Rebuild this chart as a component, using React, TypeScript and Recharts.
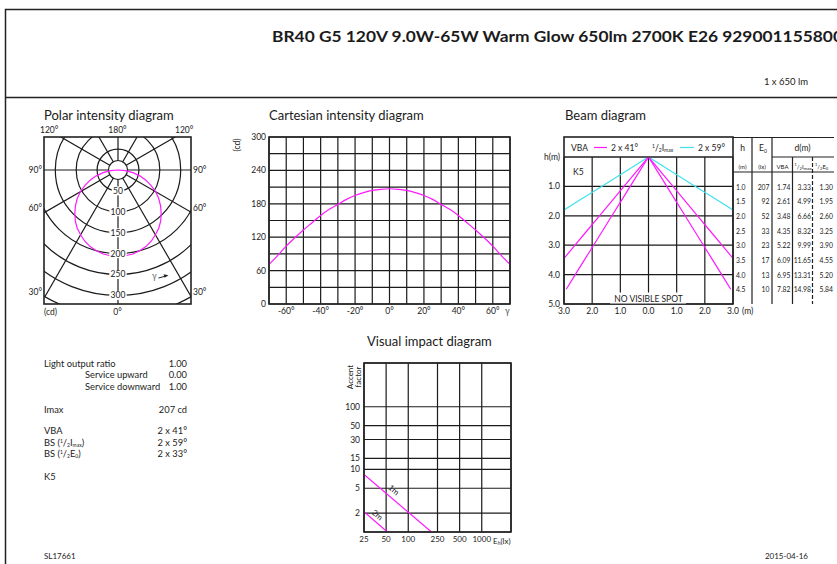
import React from 'react';
import {
  RadarChart, Radar, PolarGrid, PolarAngleAxis, PolarRadiusAxis,
  LineChart, Line, ScatterChart, Scatter, XAxis, YAxis, CartesianGrid,
} from 'recharts';

const FONT = 'Lato, "Open Sans", sans-serif';
const INK = '#1b1b1b';
const MAGENTA = '#ff1aff';
const CYAN = '#3fe2ee';

// Polar intensity diagram (gamma in degrees, intensity in cd)
const polarGamma = [
  0, 5, 10, 15, 20, 25, 30, 35, 40, 45, 50, 55, 60, 65, 70, 75, 80, 85, 90,
  95, 100, 105, 110, 115, 120, 125, 130, 135, 140, 145, 150, 155, 160, 165, 170, 175, 180,
  185, 190, 195, 200, 205, 210, 215, 220, 225, 230, 235, 240, 245, 250, 255, 260, 265,
  270, 275, 280, 285, 290, 295, 300, 305, 310, 315, 320, 325, 330, 335, 340, 345, 350, 355,
];
const polarIntensity = [
  207, 206, 204, 200, 195, 188, 179, 170, 159, 146, 133, 119, 104, 87, 71, 54, 36, 18, 0,
  0, 0, 0, 0, 0, 0, 0, 0, 0, 0, 0, 0, 0, 0, 0, 0, 0, 0,
  0, 0, 0, 0, 0, 0, 0, 0, 0, 0, 0, 0, 0, 0, 0, 0, 0,
  0, 18, 36, 54, 71, 87, 104, 119, 133, 146, 159, 170, 179, 188, 195, 200, 204, 206,
];
const polarRings = [0, 50, 100, 150, 200, 250, 300, 350];
const polarLabels = [50, 100, 150, 200, 250, 300];
const polarSpokes = [0, 30, 60, 90, 120, 150, 180, 210, 240, 270, 300, 330];

// Cartesian intensity diagram
const cartGamma = [-70, -65, -60, -55, -50, -45, -40, -35, -30, -25, -20, -15, -10, -5, 0, 5, 10, 15, 20, 25, 30, 35, 40, 45, 50, 55, 60, 65, 70];
const cartIntensity = [71, 87, 104, 119, 133, 146, 159, 170, 179, 188, 195, 200, 204, 206, 207, 206, 204, 200, 195, 188, 179, 170, 159, 146, 133, 119, 104, 87, 71];
const cartTicksX = [-70, -60, -50, -40, -30, -20, -10, 0, 10, 20, 30, 40, 50, 60, 70];
const cartLabelsX = [-60, -40, -20, 0, 20, 40, 60];
const cartTicksY = [0, 30, 60, 90, 120, 150, 180, 210, 240, 270, 300];
const cartLabelsY = [0, 60, 120, 180, 240, 300];

// Beam diagram table
const beamH = [1.0, 1.5, 2.0, 2.5, 3.0, 3.5, 4.0, 4.5];
const beamE0 = [207, 92, 52, 33, 23, 17, 13, 10];
const beamVBA = [1.74, 2.61, 3.48, 4.35, 5.22, 6.09, 6.95, 7.82];
const beamHalfImax = [3.33, 4.99, 6.66, 8.32, 9.99, 11.65, 13.31, 14.98];
const beamHalfE0 = [1.30, 1.95, 2.60, 3.25, 3.90, 4.55, 5.20, 5.84];
const beamTicksX = [-3, -2, -1, 0, 1, 2, 3];
const beamTicksY = [0, 1, 2, 3, 4, 5];

// Visual impact diagram
const viTicksX = [25, 50, 100, 250, 500, 1000];
const viTicksY = [2, 5, 10, 15, 30, 50, 100];
const vi1mEh = [25, 207];
const vi1mAf = [8.3, 1];
const vi2mEh = [25, 52];
const vi2mAf = [2.1, 1];

// left info block
const specRows = [
  { label: 'Light output ratio', indent: false, value: '1.00', y: 366.5 },
  { label: 'Service upward', indent: true, value: '0.00', y: 378 },
  { label: 'Service downward', indent: true, value: '1.00', y: 389.5 },
  { label: 'Imax', indent: false, value: '207 cd', y: 412.5 },
  { label: 'VBA', indent: false, value: '2 x 41°', y: 434 },
];

const polarData = polarGamma.map((g, i) => ({ g, cd: polarIntensity[i] }));
const cartData = cartGamma.map((g, i) => ({ g, cd: cartIntensity[i] }));
const beamEdge = (diam: number[]) => [
  ...beamH.map((h, i) => ({ d: -diam[i] / 2, h })).reverse(),
  { d: 0, h: 0 },
  ...beamH.map((h, i) => ({ d: diam[i] / 2, h })),
];
const vi1m = vi1mEh.map((eh, i) => ({ eh, af: vi1mAf[i] }));
const vi2m = vi2mEh.map((eh, i) => ({ eh, af: vi2mAf[i] }));

const tickStyle = { fontSize: 8.5, fill: INK, fontFamily: FONT };

const Txt = ({ x, y, size = 8.5, anchor = 'start', fill = INK, weight = 400, children, ...rest }: any) => (
  <text x={x} y={y} fontSize={size} textAnchor={anchor} fill={fill} fontWeight={weight} fontFamily={FONT} {...rest}>
    {children}
  </text>
);

const NoDot = () => <g />;

const RadiusTick = (props: any) => {
  const { x, y, payload } = props;
  const v = payload.value;
  if (!polarLabels.includes(v)) return <g />;
  const w = String(v).length * 4.8 + 3;
  return (
    <g>
      <rect x={x - w / 2} y={y - 4.5} width={w} height={9} fill="#fff" />
      <text x={x} y={y} dy="0.35em" textAnchor="middle" fontSize={8.5} fill={INK} fontFamily={FONT}>{v}</text>
    </g>
  );
};

// hub of the polar grid, spokes start at its rim
const HubCircle = () => <circle cx={150} cy={150} r={9.5} fill="#fff" stroke={INK} strokeWidth={1.2} />;

const PolarDiagram = () => (
  <div style={{ position: 'absolute', left: 44, top: 137, width: 147, height: 167, overflow: 'hidden' }}>
    <div style={{ position: 'absolute', left: -76.5, top: -117 }}>
      <RadarChart
        width={300}
        height={300}
        data={polarData}
        margin={{ top: 0, right: 0, bottom: 0, left: 0 }}
        outerRadius={146.3}
        startAngle={-90}
        endAngle={-450}
      >
        <PolarGrid gridType="circle" polarAngles={polarSpokes} stroke={INK} strokeWidth={1.2} />
        <PolarAngleAxis dataKey="g" tick={false} axisLine={false} />
        <HubCircle />
        <Radar dataKey="cd" stroke={MAGENTA} strokeWidth={1.2} fill="none" dot={false} isAnimationActive={false} />
        <PolarRadiusAxis
          angle={-90}
          type="number"
          domain={[0, 350]}
          ticks={polarRings as any}
          tickCount={8}
          allowDataOverflow
          axisLine={false}
          tick={<RadiusTick />}
        />
      </RadarChart>
    </div>
  </div>
);

const CartesianDiagram = () => (
  <div style={{ position: 'absolute', left: 240, top: 127 }}>
    <LineChart width={285} height={197} data={cartData} margin={{ top: 10, right: 15, bottom: 0, left: 0 }}>
      <CartesianGrid stroke={INK} strokeWidth={1.2} />
      <XAxis
        type="number"
        dataKey="g"
        domain={[-70, 70]}
        ticks={cartTicksX}
        interval={0}
        height={20}
        axisLine={false}
        tickLine={false}
        tickSize={0}
        tickMargin={4}
        tick={tickStyle}
        tickFormatter={(v: number) => (cartLabelsX.includes(v) ? `${v}°` : '')}
      />
      <YAxis
        type="number"
        domain={[0, 300]}
        ticks={cartTicksY}
        interval={0}
        width={29}
        axisLine={false}
        tickLine={false}
        tickSize={0}
        tickMargin={3}
        tick={tickStyle}
        tickFormatter={(v: number) => (cartLabelsY.includes(v) ? String(v) : '')}
      />
      <Line type="monotone" dataKey="cd" stroke={MAGENTA} strokeWidth={1.2} dot={false} isAnimationActive={false} />
    </LineChart>
  </div>
);

const BeamXTick = (props: any) => {
  const { x, y, payload } = props;
  const v = payload.value;
  return (
    <g>
      <text x={x} y={y} dy={7} textAnchor="middle" fontSize={8.5} fill={INK} fontFamily={FONT}>{Math.abs(v).toFixed(1)}</text>
      {v === 3 && <text x={x + 9} y={y} dy={7} fontSize={8.5} fill={INK} fontFamily={FONT}>(m)</text>}
    </g>
  );
};

const BeamDiagram = () => (
  <div style={{ position: 'absolute', left: 520, top: 150 }}>
    <ScatterChart width={243} height={174} margin={{ top: 7, right: 30, bottom: 0, left: 0 }}>
      <CartesianGrid stroke={INK} strokeWidth={1.2} />
      <XAxis
        type="number"
        dataKey="d"
        domain={[-3, 3]}
        ticks={beamTicksX}
        interval={0}
        allowDataOverflow
        height={20}
        axisLine={false}
        tickLine={false}
        tickSize={0}
        tickMargin={3}
        tick={<BeamXTick />}
      />
      <YAxis
        type="number"
        dataKey="h"
        domain={[0, 5]}
        reversed
        ticks={beamTicksY}
        interval={0}
        allowDataOverflow
        width={44}
        axisLine={false}
        tickLine={false}
        tickSize={0}
        tickMargin={4}
        tick={tickStyle}
        tickFormatter={(v: number) => (v === 0 ? 'h(m)' : v.toFixed(1))}
      />
      <Scatter data={beamEdge(beamHalfImax)} fill={CYAN} line={{ stroke: CYAN, strokeWidth: 1.2 }} shape={<NoDot />} isAnimationActive={false} />
      <Scatter data={beamEdge(beamVBA)} fill={MAGENTA} line={{ stroke: MAGENTA, strokeWidth: 1.2 }} shape={<NoDot />} isAnimationActive={false} />
      <Scatter data={beamEdge(beamHalfE0)} fill={MAGENTA} line={{ stroke: MAGENTA, strokeWidth: 1.2 }} shape={<NoDot />} isAnimationActive={false} />
    </ScatterChart>
  </div>
);

const VisualImpact = () => (
  <div style={{ position: 'absolute', left: 320, top: 355 }}>
    <ScatterChart width={196} height={197} margin={{ top: 8, right: 5, bottom: 0, left: 0 }}>
      <CartesianGrid stroke={INK} strokeWidth={1.2} />
      <XAxis
        type="number"
        dataKey="eh"
        scale="log"
        domain={[25, 2500]}
        ticks={viTicksX}
        interval={0}
        allowDataOverflow
        height={20}
        axisLine={false}
        tickLine={false}
        tickSize={0}
        tickMargin={4}
        tick={{ ...tickStyle, fontSize: 8 }}
      />
      <YAxis
        type="number"
        dataKey="af"
        scale="log"
        domain={[1, 500]}
        ticks={viTicksY}
        interval={0}
        allowDataOverflow
        width={44}
        axisLine={false}
        tickLine={false}
        tickSize={0}
        tickMargin={4}
        tick={tickStyle}
      />
      <Scatter data={vi1m} fill={MAGENTA} line={{ stroke: MAGENTA, strokeWidth: 1.2 }} shape={<NoDot />} isAnimationActive={false} />
      <Scatter data={vi2m} fill={MAGENTA} line={{ stroke: MAGENTA, strokeWidth: 1.2 }} shape={<NoDot />} isAnimationActive={false} />
    </ScatterChart>
  </div>
);

const HalfFrac = ({ small = 5 }: { small?: number }) => (
  <>
    <tspan fontSize={small} dy={-3}>1</tspan>
    <tspan dy={3}>/</tspan>
    <tspan fontSize={small} dy={1.5}>2</tspan>
  </>
);

const Overlay = () => {
  const rowY = beamH.map((_, i) => 189.5 + i * 14.7);
  return (
    <svg width={837} height={564} style={{ position: 'absolute', left: 0, top: 0, pointerEvents: 'none' }}>
      {/* frame */}
      <path d="M5.5 564 V9.5 H837 M5.5 97.5 H837" fill="none" stroke="#222" strokeWidth={1.5} />
      <Txt x={272} y={42} size={14.5} weight={700} textLength={571} lengthAdjust="spacingAndGlyphs">
        BR40 G5 120V 9.0W-65W Warm Glow 650lm 2700K E26 929001155800
      </Txt>
      <Txt x={808} y={85} size={9.5} anchor="end">1 x 650 lm</Txt>

      {/* polar */}
      <Txt x={44} y={120} size={13}>Polar intensity diagram</Txt>
      <rect x={44} y={137} width={147} height={167} fill="none" stroke="#222" strokeWidth={1.6} />
      <Txt x={40} y={133}>120°</Txt>
      <Txt x={117.5} y={133} anchor="middle">180°</Txt>
      <Txt x={175} y={133}>120°</Txt>
      <Txt x={42} y={173} anchor="end">90°</Txt>
      <Txt x={193} y={173}>90°</Txt>
      <Txt x={42} y={211} anchor="end">60°</Txt>
      <Txt x={193} y={211}>60°</Txt>
      <Txt x={42} y={295} anchor="end">30°</Txt>
      <Txt x={193} y={295}>30°</Txt>
      <Txt x={44} y={315}>(cd)</Txt>
      <Txt x={117.5} y={315} anchor="middle">0°</Txt>
      <Txt x={152} y={279} fill="#666">γ</Txt>
      <path d="M158.5 278 L166 276" stroke="#222" strokeWidth={1} />
      <path d="M168.5 275.3 L163.6 274.2 L164.6 277.8 Z" fill="#222" />

      {/* cartesian */}
      <Txt x={269} y={120} size={13}>Cartesian intensity diagram</Txt>
      <rect x={269} y={137} width={241} height={167} fill="none" stroke="#222" strokeWidth={1.6} />
      <Txt x={0} y={0} anchor="middle" transform="translate(240 145) rotate(-90)">(cd)</Txt>
      <Txt x={505} y={314} fill="#555">γ</Txt>

      {/* beam */}
      <Txt x={565} y={120} size={13}>Beam diagram</Txt>
      <rect x={564} y={137} width={169} height={167} fill="none" stroke="#222" strokeWidth={1.6} />
      <path d="M733 137.5 H834 M752 137 V304 M772 137 V304 M792.5 157 V304 M772 157 H834 M733 172 H834 M564 157 H733" fill="none" stroke="#222" strokeWidth={1.2} />
      <path d="M812.5 157 V304" fill="none" stroke="#222" strokeWidth={1.2} strokeDasharray="4 2" />
      <Txt x={571} y={150.5}>VBA</Txt>
      <path d="M594 147.5 H607" stroke={MAGENTA} strokeWidth={1.2} />
      <Txt x={611} y={150.5}>2 x 41°</Txt>
      <Txt x={652} y={150.5}>
        <HalfFrac />
        <tspan dy={-1.5}>I</tspan>
        <tspan fontSize={5} dy={1.5}>max</tspan>
      </Txt>
      <path d="M680 147.5 H694" stroke={CYAN} strokeWidth={1.2} />
      <Txt x={698} y={150.5}>2 x 59°</Txt>
      <Txt x={573} y={175}>K5</Txt>
      <Txt x={742.5} y={151} anchor="middle">h</Txt>
      <Txt x={759} y={151}>E<tspan fontSize={5} dy={1.5}>0</tspan></Txt>
      <Txt x={802.5} y={151} anchor="middle">d(m)</Txt>
      <Txt x={742.5} y={168.5} size={6} anchor="middle">(m)</Txt>
      <Txt x={762} y={168.5} size={6} anchor="middle">(lx)</Txt>
      <Txt x={782.5} y={168.5} size={6} anchor="middle">VBA</Txt>
      <Txt x={794.5} y={168.5} size={6}>
        <HalfFrac small={4} />
        <tspan dy={-1.5}>I</tspan>
        <tspan fontSize={4.5} dy={1.5}>max</tspan>
      </Txt>
      <Txt x={815} y={168.5} size={6}>
        <HalfFrac small={4} />
        <tspan dy={-1.5}>E</tspan>
        <tspan fontSize={4} dy={1.5}>0</tspan>
      </Txt>
      {beamH.map((h, i) => (
        <g key={h}>
          <Txt x={736} y={rowY[i]} size={6.8}>{h.toFixed(1)}</Txt>
          <Txt x={769.5} y={rowY[i]} size={6.8} anchor="end">{beamE0[i]}</Txt>
          <Txt x={790.5} y={rowY[i]} size={6.8} anchor="end">{beamVBA[i].toFixed(2)}</Txt>
          <Txt x={811} y={rowY[i]} size={6.8} anchor="end">{beamHalfImax[i].toFixed(2)}</Txt>
          <Txt x={833} y={rowY[i]} size={6.8} anchor="end">{beamHalfE0[i].toFixed(2)}</Txt>
        </g>
      ))}
      <rect x={610} y={292.5} width={76} height={11} fill="#fff" />
      <Txt x={648.5} y={302} size={8.5} anchor="middle">NO VISIBLE SPOT</Txt>

      {/* visual impact */}
      <Txt x={367} y={346} size={13}>Visual impact diagram</Txt>
      <rect x={364} y={363} width={147} height={169} fill="none" stroke="#222" strokeWidth={1.6} />
      <g transform="translate(353 377) rotate(-90)">
        <Txt x={0} y={0} size={8} anchor="middle">Accent</Txt>
        <Txt x={0} y={8} size={8} anchor="middle">factor</Txt>
      </g>
      <Txt x={0} y={0} size={8} anchor="middle" transform="translate(392 492) rotate(40)">1m</Txt>
      <Txt x={0} y={0} size={8} anchor="middle" transform="translate(375.5 517) rotate(40)">2m</Txt>
      <Txt x={493} y={543.5} size={8}>E<tspan fontSize={5} dy={1.5}>h</tspan><tspan dy={-1.5}>(lx)</tspan></Txt>

      {/* info block */}
      {specRows.map((r) => (
        <g key={r.label}>
          <Txt x={r.indent ? 85 : 44} y={r.y} size={9.3}>{r.label}</Txt>
          <Txt x={187} y={r.y} size={9.3} anchor="end">{r.value}</Txt>
        </g>
      ))}
      <Txt x={44} y={445.5} size={9.3}>
        BS (<HalfFrac />
        <tspan dy={-1.5}>I</tspan>
        <tspan fontSize={5} dy={1.5}>max</tspan>
        <tspan dy={-1.5}>)</tspan>
      </Txt>
      <Txt x={187} y={445.5} size={9.3} anchor="end">2 x 59°</Txt>
      <Txt x={44} y={456.5} size={9.3}>
        BS (<HalfFrac />
        <tspan dy={-1.5}>E</tspan>
        <tspan fontSize={5} dy={1.5}>0</tspan>
        <tspan dy={-1.5}>)</tspan>
      </Txt>
      <Txt x={187} y={456.5} size={9.3} anchor="end">2 x 33°</Txt>
      <Txt x={44} y={479.5} size={9.3}>K5</Txt>

      {/* footer */}
      <Txt x={44} y={559} size={8}>SL17661</Txt>
      <Txt x={808} y={559} size={8} anchor="end">2015-04-16</Txt>
    </svg>
  );
};

export default function App() {
  return (
    <div style={{ position: 'absolute', left: 0, top: 0, width: 837, height: 564, background: '#fff', overflow: 'hidden' }}>
      <PolarDiagram />
      <CartesianDiagram />
      <BeamDiagram />
      <VisualImpact />
      <Overlay />
    </div>
  );
}
